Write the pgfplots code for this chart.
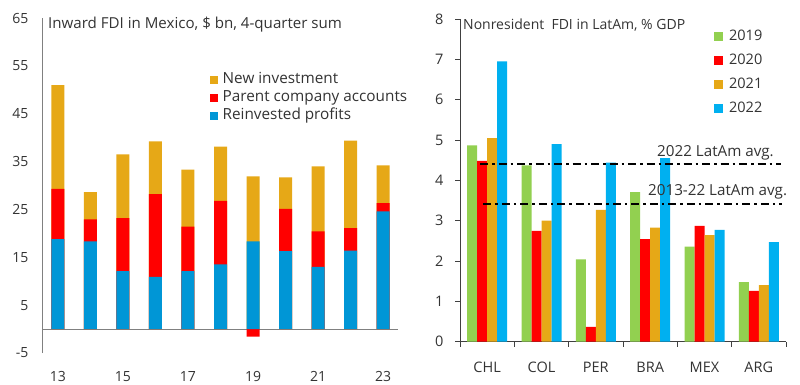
\documentclass[border=0pt]{standalone}
\usepackage{pgfplots}
\pgfplotsset{compat=1.18}
\usepackage{fontspec}
\setmainfont{Open Sans}
\definecolor{cOr}{HTML}{E6A817}
\definecolor{cRd}{HTML}{FF0000}
\definecolor{cBl}{HTML}{0096D6}
\definecolor{cGr}{HTML}{92D050}
\definecolor{cLb}{HTML}{00B0F0}
\definecolor{txt}{HTML}{333333}
\definecolor{axl}{HTML}{808080}
\definecolor{axr}{HTML}{404040}
\begin{document}
\begin{tikzpicture}
\useasboundingbox (0,0) rectangle (800pt,384pt);
% ---------------- left chart
\begin{axis}[
  at={(43pt,31pt)}, anchor=south west,
  scale only axis, width=355pt, height=335pt,
  xmin=12.54, xmax=23.46, ymin=-5, ymax=65,
  axis x line=bottom, axis y line=left,
  x axis line style={draw=none},
  y axis line style={-, draw=axl, line width=1pt},
  major tick length=0pt,
  ytick={-5,5,15,25,35,45,55,65},
  yticklabels={-5,5,15,25,35,45,55,65},
  xtick={13,15,17,19,21,23},
  xticklabels={13,15,17,19,21,23},
  tick label style={font=\fontsize{14}{17}\selectfont, text=txt},
  yticklabel style={xshift=-11pt},
  xticklabel style={yshift=-15pt},
  extra y ticks={0}, extra y tick labels={},
  extra y tick style={grid=major, major grid style={draw=axl, line width=1pt}},
  ybar, bar width=13pt,
  legend style={at={(0.469,0.839)}, anchor=north west, draw=none, fill=none,
    font=\fontsize{15.3}{18}\selectfont, text=txt, inner sep=0pt, row sep=3pt,
    nodes={inner sep=0pt, text height=11pt, text depth=4pt}},
  legend cell align=left,
  legend image code/.code={\path[#1] (0pt,-4pt) rectangle (8pt,4pt); \path (13pt,0pt);},
]
\addplot[fill=cOr, draw=none, bar shift=0pt] coordinates {
 (13,51.0) (14,28.6) (15,36.5) (16,39.2) (17,33.3) (18,38.1)
 (19,31.9) (20,31.7) (21,34.0) (22,39.4) (23,34.2)};
\addlegendentry{New investment}
\addplot[fill=cRd, draw=none, bar shift=0pt] coordinates {
 (13,29.3) (14,22.9) (15,23.2) (16,28.2) (17,21.4) (18,26.8)
 (19,-1.6) (20,25.1) (21,20.4) (22,21.1) (23,26.3)};
\addlegendentry{Parent company accounts}
\addplot[fill=cBl, draw=none, bar shift=0pt] coordinates {
 (13,18.8) (14,18.3) (15,12.1) (16,10.9) (17,12.1) (18,13.5)
 (19,18.3) (20,16.3) (21,13.0) (22,16.4) (23,24.6)};
\addlegendentry{Reinvested profits}
\end{axis}
% ---------------- right chart
\begin{axis}[
  at={(460pt,42.3pt)}, anchor=south west,
  scale only axis, width=326pt, height=322.7pt,
  xmin=-0.5, xmax=5.5, ymin=0, ymax=8,
  axis x line=bottom, axis y line=left,
  axis line style={-, draw=axr, line width=0.9pt},
  tick align=outside, major tick length=5pt,
  tick style={draw=axr, line width=0.9pt},
  ytick={0,1,...,8},
  xtick={-0.5,0.5,1.5,2.5,3.5,4.5,5.5},
  xticklabels={},
  extra x ticks={0,1,2,3,4,5},
  extra x tick labels={CHL,COL,PER,BRA,MEX,ARG},
  extra x tick style={major tick length=0pt, xticklabel style={yshift=-17pt}},
  tick label style={font=\fontsize{14.5}{17}\selectfont, text=txt},
  yticklabel style={xshift=-8pt},
  /pgf/number format/assume math mode=true,
  ybar=0pt, bar width=10pt,
  legend style={at={(0.779,0.969)}, anchor=north west, draw=none, fill=none,
    font=\fontsize{14.5}{17}\selectfont, text=txt, inner sep=0pt, row sep=10pt,
    nodes={inner sep=0pt, text height=11pt, text depth=3pt}},
  legend cell align=left,
  legend image code/.code={\path[#1] (0pt,-4.5pt) rectangle (9pt,4.5pt); \path (15pt,0pt);},
]
\addplot[fill=cGr, draw=none] coordinates {(0,4.87) (1,4.37) (2,2.04) (3,3.71) (4,2.36) (5,1.48)};
\addlegendentry{2019}
\addplot[fill=cRd, draw=none] coordinates {(0,4.48) (1,2.75) (2,0.37) (3,2.54) (4,2.87) (5,1.26)};
\addlegendentry{2020}
\addplot[fill=cOr, draw=none] coordinates {(0,5.05) (1,3.00) (2,3.27) (3,2.83) (4,2.64) (5,1.40)};
\addlegendentry{2021}
\addplot[fill=cLb, draw=none] coordinates {(0,6.95) (1,4.90) (2,4.44) (3,4.55) (4,2.77) (5,2.47)};
\addlegendentry{2022}
\addplot[sharp plot, forget plot, black, line width=1.8pt, dash pattern=on 8pt off 4pt on 2.5pt off 4pt]
  coordinates {(-0.13,4.40) (5.4,4.40)};
\addplot[sharp plot, forget plot, black, line width=1.8pt, dash pattern=on 8pt off 4pt on 2.5pt off 4pt]
  coordinates {(-0.07,3.42) (5.43,3.42)};
\end{axis}
% ---------------- titles and labels
\node[anchor=west, inner sep=0pt, text=txt, font=\fontsize{15.1}{18}\selectfont] at (48pt,359pt) {Inward FDI in Mexico, \$ bn, 4-quarter sum};
\node[anchor=west, inner sep=0pt, text=txt, font=\fontsize{14}{17}\selectfont] at (463pt,359pt) {Nonresident\ \ FDI in LatAm, \% GDP};
\node[anchor=west, inner sep=0pt, text=txt, font=\fontsize{15.2}{18}\selectfont] at (657pt,231pt) {2022 LatAm avg.};
\node[anchor=west, inner sep=0pt, text=txt, font=\fontsize{15.2}{18}\selectfont] at (648pt,192pt) {2013-22 LatAm avg.};
\end{tikzpicture}
\end{document}
